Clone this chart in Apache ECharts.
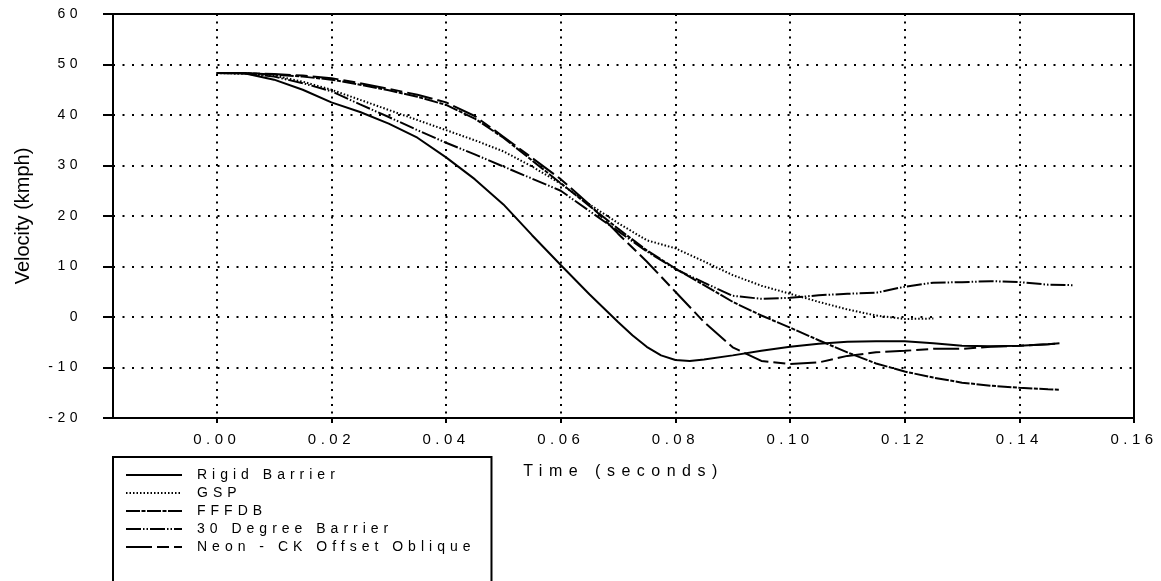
<!DOCTYPE html>
<html>
<head>
<meta charset="utf-8">
<script src="https://cdn.jsdelivr.net/npm/echarts@6/dist/echarts.min.js"></script>
<style>
html,body{margin:0;padding:0;background:#fff;}
#main{width:1161px;height:581px;}
</style>
</head>
<body>
<div id="main"></div>
<script>
// ---- data ----
const seriesNames = ['Rigid Barrier', 'GSP', 'FFFDB', '30 Degree Barrier', 'Neon - CK Offset Oblique'];
const xTicks = [0, 0.02, 0.04, 0.06, 0.08, 0.10, 0.12, 0.14, 0.16];

const rigidT = [0,0.005,0.01,0.015,0.02,0.025,0.03,0.035,0.04,0.045,0.05,0.055,0.06,0.065,0.07,0.0725,0.075,0.0775,0.08,0.0825,0.085,0.09,0.095,0.10,0.105,0.11,0.115,0.12,0.125,0.13,0.135,0.14,0.145,0.147];
const rigidV = [48.3,48.2,47.0,45.0,42.5,40.6,38.3,35.5,31.6,27.3,22.3,16.2,10.3,4.5,-1.0,-3.6,-5.9,-7.6,-8.5,-8.7,-8.4,-7.6,-6.7,-5.9,-5.3,-4.9,-4.8,-4.8,-5.2,-5.7,-5.8,-5.7,-5.4,-5.2];

const gspT = [0,0.005,0.01,0.015,0.02,0.025,0.03,0.035,0.04,0.045,0.05,0.055,0.06,0.065,0.07,0.075,0.08,0.085,0.09,0.095,0.10,0.105,0.11,0.115,0.12,0.125];
const gspV = [48.3,48.2,47.8,46.6,45.0,43.0,41.0,39.0,37.0,35.0,32.8,29.8,26.4,22.3,18.6,15.2,13.6,11.0,8.3,6.2,4.6,3.0,1.5,0.3,-0.4,-0.3];

const fffdbT = [0,0.005,0.01,0.015,0.02,0.025,0.03,0.035,0.04,0.045,0.05,0.055,0.06,0.065,0.07,0.075,0.08,0.085,0.09,0.095,0.10,0.105,0.11,0.115,0.12,0.125,0.13,0.135,0.14,0.145,0.147];
const fffdbV = [48.3,48.3,48.0,47.6,47.0,46.0,44.9,43.6,42.0,39.3,35.5,31.0,26.5,22.0,17.5,13.2,9.6,6.3,3.0,0.3,-2.1,-4.6,-7.0,-9.2,-10.8,-12.0,-13.0,-13.6,-14.0,-14.3,-14.4];

const deg30T = [0,0.005,0.01,0.015,0.02,0.025,0.03,0.035,0.04,0.045,0.05,0.055,0.06,0.065,0.07,0.075,0.08,0.085,0.09,0.095,0.10,0.105,0.11,0.115,0.12,0.125,0.13,0.135,0.14,0.145,0.1495];
const deg30V = [48.3,48.2,47.6,46.3,44.7,42.1,39.6,37.0,34.5,32.2,29.8,27.4,25.0,21.0,17.0,13.0,9.5,6.8,4.2,3.6,3.8,4.3,4.6,4.8,6.0,6.8,6.9,7.1,6.9,6.4,6.3];

const neonT = [0,0.005,0.01,0.015,0.02,0.025,0.03,0.035,0.04,0.045,0.05,0.055,0.06,0.065,0.07,0.075,0.08,0.085,0.09,0.095,0.10,0.105,0.11,0.115,0.12,0.125,0.13,0.135,0.14,0.145,0.147];
const neonV = [48.3,48.3,48.1,47.8,47.3,46.3,45.2,44.0,42.5,39.8,35.7,31.5,27.3,22.3,16.5,11.0,5.0,-1.0,-6.0,-8.7,-9.3,-9.0,-7.7,-7.0,-6.7,-6.3,-6.3,-5.9,-5.7,-5.4,-5.2];

function pairs(t, v) { return t.map((x, i) => [x, v[i]]); }

const FONT = 'Liberation Sans, Arial, sans-serif';
const X_MIN = -0.0181, X_MAX = 0.16;

const dashes = [
  'solid',
  [1.5, 2],
  [14, 1.5, 4, 1.5],
  [15, 2, 1.5, 2, 1.5, 2],
  [26, 5, 12, 5]
];
const seriesData = [pairs(rigidT, rigidV), pairs(gspT, gspV), pairs(fffdbT, fffdbV), pairs(deg30T, deg30V), pairs(neonT, neonV)];

const option = {
  backgroundColor: '#fff',
  animation: false,
  grid: { left: 113, right: 27, top: 14, bottom: 163, show: true, borderColor: '#000', borderWidth: 2, containLabel: false },
  legend: {
    data: seriesNames,
    orient: 'vertical',
    left: 113, top: 457, height: 90,
    padding: [11, 136, 40, 12],
    itemWidth: 56, itemHeight: 14, itemGap: 4,
    backgroundColor: '#fff', borderColor: '#000', borderWidth: 2, borderRadius: 0,
    itemStyle: { color: 'rgba(0,0,0,0)', borderWidth: 0, opacity: 0 },
    textStyle: { fontFamily: FONT, fontSize: 14, color: '#000', padding: [0, 0, 0, 10] },
    zlevel: 3
  },
  xAxis: [{
    type: 'value', min: X_MIN, max: X_MAX,
    axisLine: { show: true, onZero: false, lineStyle: { color: '#000', width: 2 } },
    axisTick: { show: true, customValues: xTicks, length: 5, lineStyle: { color: '#000', width: 2 } },
    axisLabel: { customValues: xTicks, formatter: v => v.toFixed(2), fontFamily: FONT, fontSize: 15, color: '#000', margin: 14 },
    splitLine: { show: true, lineStyle: { color: '#000', width: 2, type: [2, 5.5] } }
  }, {
    type: 'value', min: X_MIN, max: X_MAX, position: 'bottom', gridIndex: 0,
    name: 'Time (seconds)', nameLocation: 'middle', nameGap: 46,
    nameTextStyle: { fontFamily: FONT, fontSize: 16, color: '#000' },
    axisLine: { show: false, onZero: false }, axisTick: { show: false }, axisLabel: { show: false }, splitLine: { show: false },
    zlevel: 2
  }],
  yAxis: [{
    type: 'value', min: -20, max: 60, interval: 10,
    axisLine: { show: true, onZero: false, lineStyle: { color: '#000', width: 2 } },
    axisTick: { show: true, length: 10, lineStyle: { color: '#000', width: 2 } },
    axisLabel: { fontFamily: FONT, fontSize: 14, color: '#000', margin: 31 },
    splitLine: { show: true, lineStyle: { color: '#000', width: 2, type: [2, 7.5] } }
  }, {
    type: 'value', min: -20, max: 60, position: 'left', gridIndex: 0,
    name: 'Velocity (kmph)', nameLocation: 'middle', nameGap: 80, nameRotate: 90,
    nameTextStyle: { fontFamily: FONT, fontSize: 20, color: '#000' },
    axisLine: { show: false, onZero: false }, axisTick: { show: false }, axisLabel: { show: false }, splitLine: { show: false },
    zlevel: 1
  }],
  series: seriesNames.map((name, i) => ({
    name: name,
    type: 'line',
    xAxisIndex: 0, yAxisIndex: 0,
    data: seriesData[i],
    symbol: 'none',
    showSymbol: false,
    smooth: false,
    lineStyle: { color: '#000', width: 2, type: dashes[i] },
    itemStyle: { color: '#000' },
    emphasis: { disabled: true }
  }))
};

const chart = echarts.init(document.getElementById('main'), null, { renderer: 'canvas' });
chart.setOption(option);

// spaced lettering like the original figure (per canvas layer)
(function applySpacing() {
  try {
    const painter = chart.getZr().painter;
    const layers = painter.getLayers ? painter.getLayers() : painter._layers;
    const spacing = { 0: '4.5px', 1: '0px', 2: '6.5px', 3: '5px' };
    Object.keys(layers).forEach(k => {
      const l = layers[k];
      if (l && l.ctx && spacing[k] != null && ('letterSpacing' in l.ctx)) l.ctx.letterSpacing = spacing[k];
    });
    painter.refresh(true);
  } catch (e) { console.log(e); }
})();
</script>
</body>
</html>
